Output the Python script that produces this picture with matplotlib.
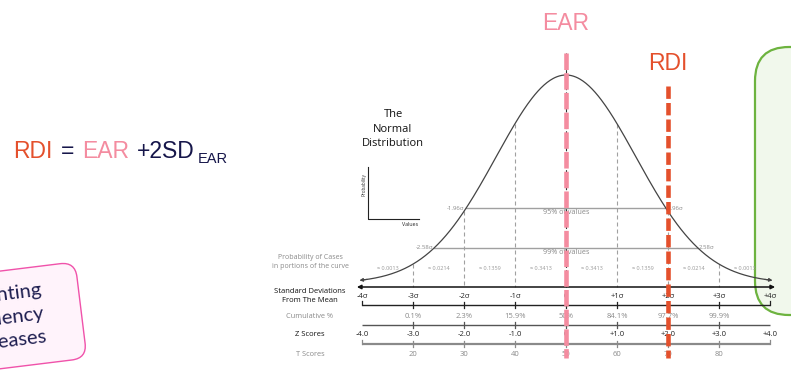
import numpy as np
import matplotlib.pyplot as plt
from matplotlib.patches import FancyBboxPatch
from matplotlib.transforms import Affine2D

plt.rcParams['font.family'] = ['Open Sans', 'DejaVu Sans']

# chart content
sigma_pos = [-4, -3, -2, -1, 0, 1, 2, 3, 4]
sigma_labels = ['-4σ', '-3σ', '-2σ', '-1σ', '0', '+1σ', '+2σ', '+3σ', '+4σ']
cum_pos = [-3, -2, -1, 0, 1, 2, 3]
cum_labels = ['0.1%', '2.3%', '15.9%', '50%', '84.1%', '97.7%', '99.9%']
z_labels = ['-4.0', '-3.0', '-2.0', '-1.0', '0', '+1.0', '+2.0', '+3.0', '+4.0']
t_pos = [-3, -2, -1, 0, 1, 2, 3]
t_labels = ['20', '30', '40', '50', '60', '70', '80']
prob_mid = [-3.5, -2.5, -1.5, -0.5, 0.5, 1.5, 2.5, 3.5]
prob_labels = ['≈ 0.0013', '≈ 0.0214', '≈ 0.1359', '≈ 0.3413',
               '≈ 0.3413', '≈ 0.1359', '≈ 0.0214', '≈ 0.0013']
ci_z = [1.96, 2.58]
ci_labels = ['95% of values', '99% of values']
ear_z = 0
rdi_z = 2
curve_sd = 1.37   # drawn width of the bell in sigma units

PINK = '#F48CA0'
ORANGE = '#E4502C'
NAVY = '#16164A'

W, H = 791, 388
X0, PX_SD = 566, 51
BASE, PEAK = 283, 75


def row(py):
    return (BASE - py) / (BASE - PEAK)


def dens(z):
    return np.exp(-np.asarray(z) ** 2 / (2 * curve_sd ** 2))


fig = plt.figure(figsize=(W / 100, H / 100), dpi=100)
ax = fig.add_axes([0, 0, 1, 1])
ax.set_xlim(-X0 / PX_SD, (W - X0) / PX_SD)
ax.set_ylim(row(H), row(0))
ax.axis('off')

# green panel on the right
ax.add_patch(FancyBboxPatch((7.55, 0.73), 1.3, 2.68,
                            boxstyle='round,pad=0,rounding_size=0.34',
                            transform=fig.dpi_scale_trans, fc='#F1F8EC',
                            ec='#6DB33F', lw=1.6, zorder=0))

# pink rotated note on the left (cut by the figure edge, as in the slide)
rot = Affine2D().rotate_deg_around(0.81, 0.78, 7) + fig.dpi_scale_trans
ax.add_patch(FancyBboxPatch((-0.9, 0.295), 1.71, 0.97,
                            boxstyle='round,pad=0,rounding_size=0.15',
                            transform=rot, fc='#FFF3FB', ec='#F052AA',
                            lw=1.0, zorder=0))
ax.text(0.47, 0.73, 'Preventing\ndeficiency\ndiseases', transform=rot,
        rotation=7, ha='right', va='center', multialignment='right',
        fontsize=14.5, color='#1E1E50', family=['Lato', 'DejaVu Sans'],
        linespacing=1.45)

# bell curve
z = np.linspace(-4, 4, 400)
ax.plot(z, dens(z), color='#444444', lw=0.9, zorder=3)
for a, b in [(-3.9, -4.05), (3.9, 4.05)]:
    ax.annotate('', xy=(b, dens(b)), xytext=(a, dens(a)),
                arrowprops=dict(arrowstyle='-|>', color='#444444', lw=0.8,
                                mutation_scale=5, shrinkA=0, shrinkB=0))

# vertical dashed guides
y_axis = row(287)
for s in [-3, -2, -1, 1, 2, 3]:
    ax.plot([s, s], [dens(s), y_axis], color='#A0A0A0', lw=0.8,
            dashes=(3.6, 2.7), zorder=2)
ax.plot([0, 0], [row(53), y_axis], color='#333333', lw=0.8,
        dashes=(3.0, 2.0), zorder=2)

# confidence intervals
for zc, lab in zip(ci_z, ci_labels):
    yc = dens(zc)
    ax.plot([-zc, zc], [yc, yc], color='#A0A0A0', lw=1.0, zorder=2)
    ax.text(-zc - 0.03, yc, f'-{zc:.2f}σ', ha='right', va='center',
            fontsize=4.3, color='#888888')
    ax.text(zc + 0.03, yc, f'{zc:.2f}σ', ha='left', va='center',
            fontsize=4.3, color='#888888')
    ax.text(0, yc - 0.005, lab, ha='center', va='top', fontsize=5.2,
            color='#888888')

# probabilities
for m, lab in zip(prob_mid, prob_labels):
    ax.text(m, row(269), lab, ha='center', va='center', fontsize=4.0,
            color='#999999')

# sigma arrow axis
ax.annotate('', xy=(4.1, y_axis), xytext=(-4.1, y_axis),
            arrowprops=dict(arrowstyle='<|-|>', color='#111111', lw=1.1,
                            mutation_scale=6, shrinkA=0, shrinkB=0))


def scale_line(py, color, lw, ticks, ends):
    y = row(py)
    dt = 3 / (BASE - PEAK)
    ax.plot([-4, 4], [y, y], color=color, lw=lw, solid_capstyle='butt')
    for t in ticks:
        ax.plot([t, t], [y - dt, y + dt], color=color, lw=0.9)
    if ends:
        for t in [-4, 4]:
            ax.plot([t, t], [y, y + 1.3 * dt], color=color, lw=0.9)


for s, lab in zip(sigma_pos, sigma_labels):
    ax.text(s, row(297), lab, ha='center', va='center', fontsize=5.5,
            color='#222222')
scale_line(305, '#222222', 1.0, [-3, -2, -1, 0, 1, 2, 3], True)

for s, lab in zip(cum_pos, cum_labels):
    ax.text(s, row(316), lab, ha='center', va='center', fontsize=5.5,
            color='#8A8A8A')
scale_line(325, '#555555', 1.0, cum_pos, False)

for s, lab in zip(sigma_pos, z_labels):
    ax.text(s, row(335), lab, ha='center', va='center', fontsize=5.5,
            color='#222222')
scale_line(344, '#8A8A8A', 1.6, t_pos, True)

for s, lab in zip(t_pos, t_labels):
    ax.text(s, row(354), lab, ha='center', va='center', fontsize=5.5,
            color='#8A8A8A')

# row captions
xc = (310 - X0) / PX_SD
ax.text(xc, row(262), 'Probability of Cases\nin portions of the curve',
        ha='center', va='center', fontsize=5.0, color='#8A8A8A',
        linespacing=1.5)
ax.text(xc, row(296), 'Standard Deviations\nFrom The Mean', ha='center',
        va='center', fontsize=5.5, color='#111111', linespacing=1.4)
ax.text(xc, row(316), 'Cumulative %', ha='center', va='center',
        fontsize=5.3, color='#8A8A8A')
ax.text(xc, row(335), 'Z Scores', ha='center', va='center', fontsize=5.5,
        color='#111111')
ax.text(xc, row(354), 'T Scores', ha='center', va='center', fontsize=5.3,
        color='#8A8A8A')

# title and mini axes
ax.text((393 - X0) / PX_SD, row(129), 'The\nNormal\nDistribution',
        ha='center', va='center', fontsize=8, color='#111111',
        linespacing=1.45)
xa, xb = (368 - X0) / PX_SD, (419 - X0) / PX_SD
ax.plot([xa, xa, xb], [row(167), row(219), row(219)], color='#222222',
        lw=0.8)
ax.text(xa - 0.08, row(185), 'Probability', rotation=90, ha='center',
        va='center', fontsize=3.3, color='#333333')
ax.text((410 - X0) / PX_SD, row(224), 'Values', ha='center', va='center',
        fontsize=3.8, color='#222222')

# EAR and RDI markers
ax.plot([ear_z, ear_z], [row(53), row(358)], color=PINK, lw=3.3,
        dashes=(3.6, 0.7), solid_capstyle='butt', zorder=6)
ax.plot([rdi_z, rdi_z], [row(86), row(358)], color=ORANGE, lw=3.3,
        dashes=(2.7, 0.9), zorder=6)
sans = ['Liberation Sans', 'DejaVu Sans']
ax.text(ear_z, row(23), 'EAR', ha='center', va='center', fontsize=16.5,
        color=PINK, family=sans)
ax.text(rdi_z, row(63), 'RDI', ha='center', va='center', fontsize=16.5,
        color=ORANGE, family=sans)

# formula
for px, txt, col, size, base in [(13, 'RDI', ORANGE, 16.5, 158),
                                 (61, '=', NAVY, 16.5, 158),
                                 (82, 'EAR', PINK, 16.5, 158),
                                 (137, '+2SD', NAVY, 16.5, 158),
                                 (198, 'EAR', NAVY, 10.5, 163)]:
    fig.text(px / W, 1 - base / H, txt, ha='left', va='baseline',
             fontsize=size, color=col, family=sans)

fig.savefig('out.png', dpi=100)
